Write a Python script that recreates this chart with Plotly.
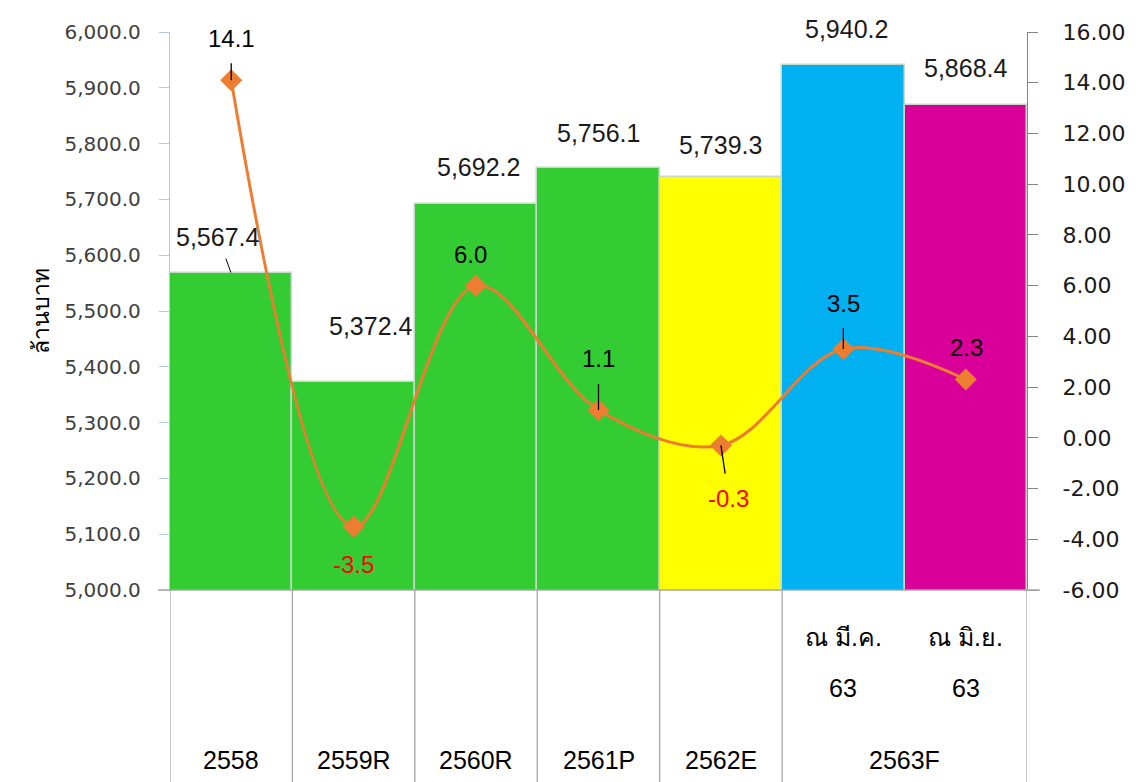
import plotly.graph_objects as go

# ---- data ----
years = ["2558", "2559R", "2560R", "2561P", "2562E", "2563F", "2563F"]
sub_line1 = ["", "", "", "", "", "ณ มี.ค.", "ณ มิ.ย."]
sub_line2 = ["", "", "", "", "", "63", "63"]
values = [5567.4, 5372.4, 5692.2, 5756.1, 5739.3, 5940.2, 5868.4]
growth = [14.1, -3.5, 6.0, 1.1, -0.3, 3.5, 2.3]
y2_ticks = [-6, -4, -2, 0, 2, 4, 6, 8, 10, 12, 14, 16]
y2_ticktext = ["-6.00", "-4.00", "-2.00", "0.00", "2.00", "4.00", "6.00",
               "8.00", "10.00", "12.00", "14.00", "16.00"]
y_title = "ล้านบาท"

# ---- styles ----
bar_colors = ["#33CC33", "#33CC33", "#33CC33", "#33CC33", "#FFFF00", "#00B0F0", "#D9009A"]
line_color = "#ED7D31"
# (xshift px, yshift px, leader line?) for bar labels
bar_lbl_style = [(-13, 36, True), (17, 56, False), (2, 37, False), (0, 35, False),
                 (0, 32, False), (3, 36, False), (0, 37, False)]
# (ax, ay, leader line?) for growth labels
gr_lbl_style = [(0, -42, True), (0, 38, False), (-6, -31, False), (0, -51, True),
                (8, 53, True), (0, -46, True), (1, -32, False)]

n = len(values)
xs = list(range(n))
FONT = "Liberation Sans, Noto Sans, sans-serif"

fig = go.Figure()
fig.add_trace(go.Bar(
    x=xs, y=values, width=1.0,
    marker=dict(color=bar_colors, line=dict(color="#C8D8C8", width=1.5)),
    hoverinfo="skip", showlegend=False,
))
fig.add_trace(go.Scatter(
    x=xs, y=growth, yaxis="y2", mode="lines+markers",
    line=dict(color=line_color, width=3, shape="spline", smoothing=1.0),
    marker=dict(symbol="diamond", size=17, color=line_color),
    hoverinfo="skip", showlegend=False,
))

annotations = []
# bar value labels
for i, v in enumerate(values):
    dx, dy, lead = bar_lbl_style[i]
    if lead:
        annotations.append(dict(
            x=xs[i], y=v, xref="x", yref="y", text=f"{v:,.1f}",
            showarrow=True, ax=dx, ay=-dy, arrowhead=0, arrowwidth=1,
            arrowcolor="#000000", startstandoff=6, standoff=1,
            font=dict(family=FONT, size=25, color="#1A1A1A")))
    else:
        annotations.append(dict(
            x=xs[i], y=v, xref="x", yref="y", text=f"{v:,.1f}",
            showarrow=False, xshift=dx, yshift=dy,
            font=dict(family=FONT, size=25, color="#1A1A1A")))
# growth labels
for i, g in enumerate(growth):
    ax, ay, lead = gr_lbl_style[i]
    col = "#FF0000" if g < 0 else "#000000"
    if lead:
        annotations.append(dict(
            x=xs[i], y=g, xref="x", yref="y2", text=f"{g:.1f}",
            showarrow=True, ax=ax, ay=ay, arrowhead=0, arrowwidth=1.3,
            arrowcolor="#000000", startstandoff=10, standoff=0,
            font=dict(family=FONT, size=24, color=col)))
    else:
        annotations.append(dict(
            x=xs[i], y=g, xref="x", yref="y2", text=f"{g:.1f}",
            showarrow=False, xshift=ax, yshift=-ay,
            font=dict(family=FONT, size=24, color=col)))

# category labels (two-level)
seen = []
for yv in years:
    if yv not in seen:
        seen.append(yv)
for yv in seen:
    idx = [i for i, c in enumerate(years) if c == yv]
    cx = sum(idx) / len(idx)
    annotations.append(dict(
        x=cx, y=-0.305, xref="x", yref="paper", yanchor="middle", text=yv,
        showarrow=False, font=dict(family=FONT, size=25, color="#000000")))
for i in range(n):
    if sub_line1[i]:
        annotations.append(dict(
            x=xs[i], y=-0.085, xref="x", yref="paper", yanchor="middle",
            text=sub_line1[i], showarrow=False,
            font=dict(family=FONT, size=25, color="#000000")))
    if sub_line2[i]:
        annotations.append(dict(
            x=xs[i], y=-0.176, xref="x", yref="paper", yanchor="middle",
            text=sub_line2[i], showarrow=False,
            font=dict(family=FONT, size=25, color="#000000")))

shapes = []
# left edge, dividers between year groups, right edge
div_x = [-0.5] + [k - 0.5 for k in range(1, n) if years[k] != years[k - 1]] + [n - 0.5]
for dxp in div_x:
    shapes.append(dict(type="line", xref="x", yref="paper",
                       x0=dxp, x1=dxp, y0=0, y1=-0.36,
                       line=dict(color="#A6A6A6", width=1.3)))
# x-axis baseline
shapes.append(dict(type="line", xref="paper", yref="paper",
                   x0=-0.014, x1=1.015, y0=0, y1=0,
                   line=dict(color="#A6A6A6", width=1.3)))

fig.update_layout(
    width=1133, height=774,
    margin=dict(l=162, r=114, t=14, b=192),
    paper_bgcolor="white", plot_bgcolor="white",
    bargap=0,
    xaxis=dict(range=[-0.5, n - 0.5], showticklabels=False, showgrid=False,
               zeroline=False, showline=False, ticks=""),
    yaxis=dict(range=[5000, 6000], dtick=100, tickformat=",.1f",
               showgrid=False, zeroline=False, showline=True,
               linecolor="#B4C7E7", linewidth=1.3, ticks="outside",
               tickcolor="#B4C7E7", ticklen=10, tickwidth=1.3,
               ticklabelstandoff=14,
               tickfont=dict(family="DejaVu Sans, sans-serif", size=20, color="#404040"),
               title=dict(text=y_title, standoff=8,
                          font=dict(family=FONT, size=23, color="#000000"))),
    yaxis2=dict(range=[-6, 16], overlaying="y", side="right",
                tickvals=y2_ticks, ticktext=y2_ticktext,
                showgrid=False, zeroline=False, showline=True,
                linecolor="#868686", linewidth=1.3, ticks="outside",
                tickcolor="#868686", ticklen=10, tickwidth=1.3,
                ticklabelstandoff=20,
                tickfont=dict(family="DejaVu Sans, sans-serif", size=22, color="#1A1A1A")),
    annotations=annotations,
    shapes=shapes,
)

fig.write_html("out.html")
